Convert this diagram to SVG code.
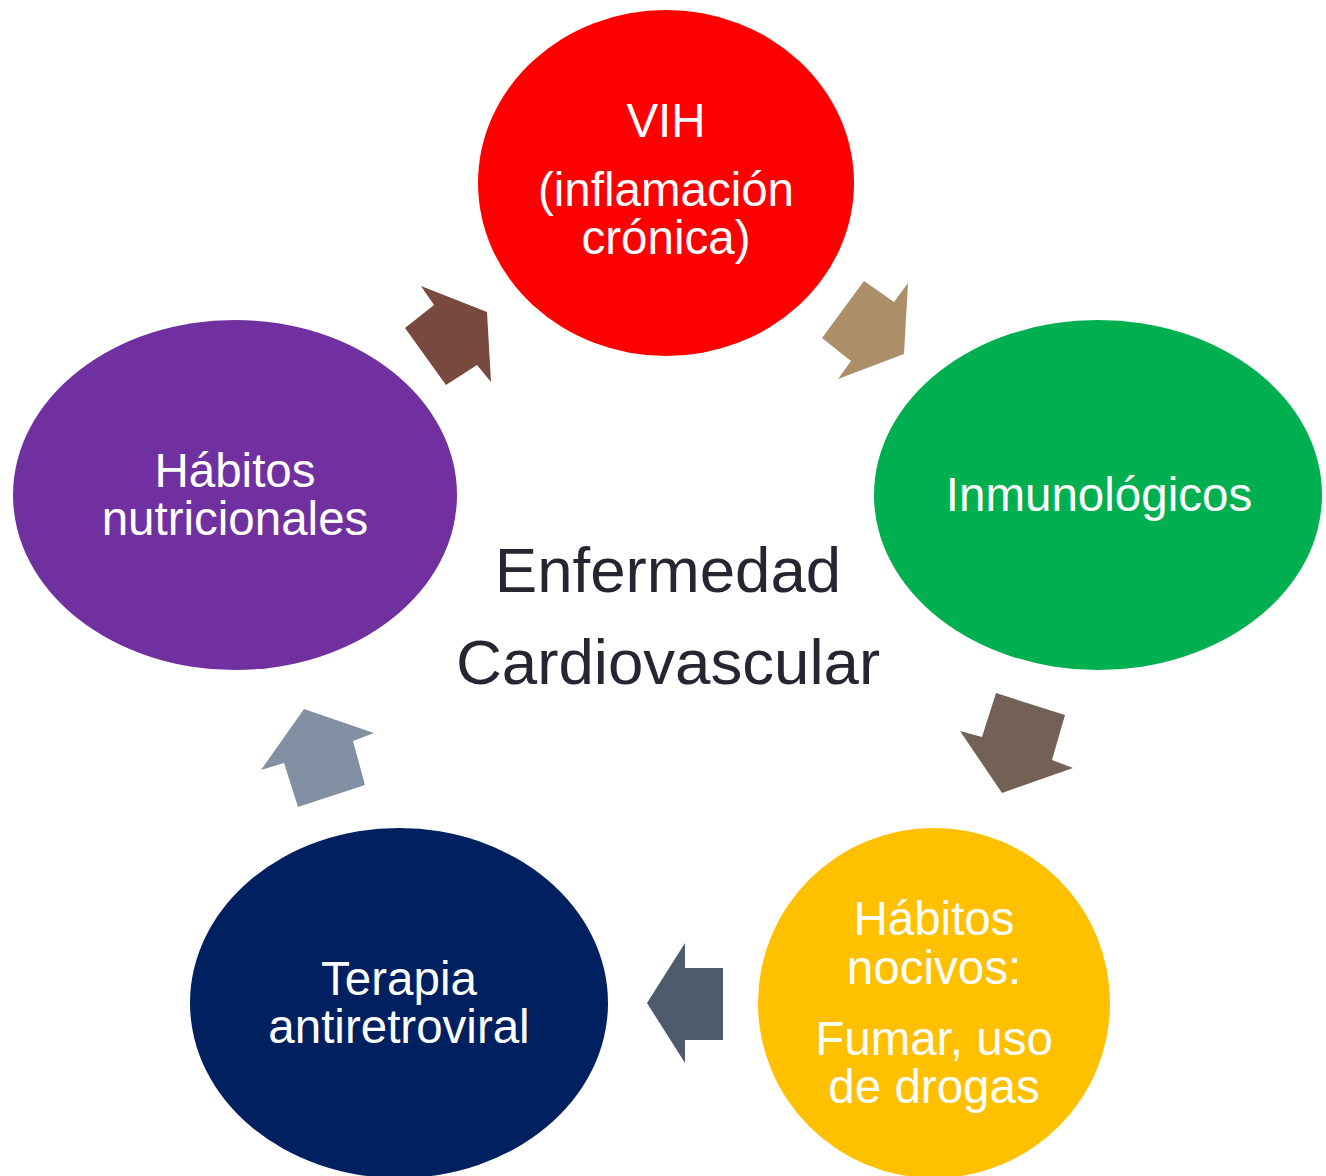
<svg xmlns="http://www.w3.org/2000/svg" width="1326" height="1176" viewBox="0 0 1326 1176">
<style>
.t{font-family:"Liberation Sans",Arial,sans-serif;font-size:47.5px;fill:#fff;text-anchor:middle}
.c{font-family:"Liberation Sans",Arial,sans-serif;font-size:63.6px;fill:#262633;text-anchor:middle}
</style>
<rect width="1326" height="1176" fill="#fff"/>
<g id="vih"><ellipse cx="666" cy="183" rx="188" ry="173" fill="#FF0000"/>
<text class="t" x="666" y="137">VIH</text><text class="t" x="666" y="206">(inflamación</text><text class="t" x="666" y="254">crónica)</text></g>
<g id="inmuno"><ellipse cx="1098" cy="495" rx="224" ry="175" fill="#00B050"/>
<text class="t" x="1099" y="511">Inmunológicos</text></g>
<g id="nocivos"><ellipse cx="934" cy="1003" rx="176" ry="175" fill="#FFC000"/>
<text class="t" x="934" y="935">Hábitos</text><text class="t" x="934" y="984">nocivos:</text><text class="t" x="934" y="1055">Fumar, uso</text><text class="t" x="934" y="1103">de drogas</text></g>
<g id="tar"><ellipse cx="399" cy="1003" rx="209" ry="175" fill="#002060"/>
<text class="t" x="399" y="995">Terapia</text><text class="t" x="399" y="1043">antiretroviral</text></g>
<g id="nutri"><ellipse cx="235" cy="495" rx="222" ry="175" fill="#7030A0"/>
<text class="t" x="235" y="487">Hábitos</text><text class="t" x="235" y="535">nutricionales</text></g>
<g id="centro"><text class="c" x="668" y="592">Enfermedad</text><text class="c" x="668" y="684">Cardiovascular</text></g>
<g id="connectors">
<polygon points="421,286 487,312 491,382 477,365 446,385 405,328 434,305" fill="#784A3F"/>
<polygon points="864,281 894,302 908,283 904,354 838,379 851,361 822,338" fill="#AC8F69"/>
<polygon points="996,693 1065,715 1052,760 1073,768 1002,793 960,731 982,737" fill="#736056"/>
<polygon points="685,943 685,968 723,968 723,1040 685,1040 685,1063 647,1003" fill="#4E5B6D"/>
<polygon points="304,709 374,733 353,741 365,785 298,807 284,763 261,770" fill="#8190A3"/>
</g>
</svg>
